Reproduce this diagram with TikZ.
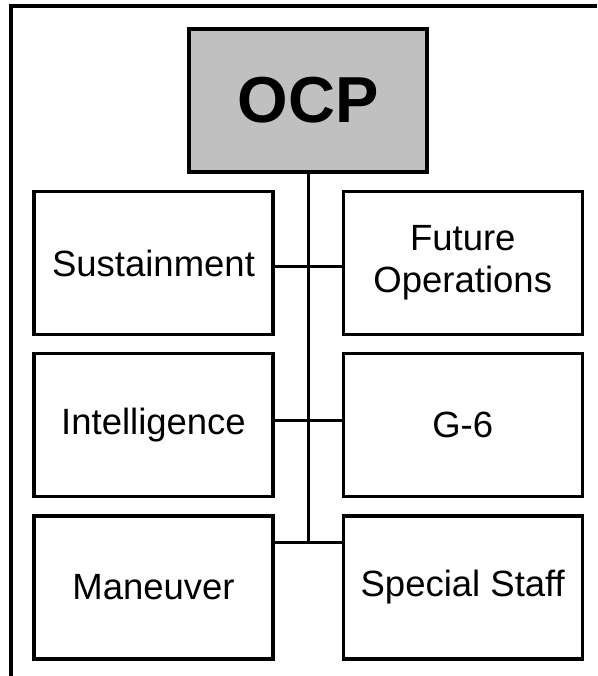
\documentclass[tikz,border=0pt]{standalone}
\usepackage{fontspec}
\setmainfont{Liberation Sans}
\usepackage{xcolor}
\usetikzlibrary{positioning,calc}
\definecolor{hqgray}{RGB}{192,192,192}

\begin{document}
\begin{tikzpicture}[x=1pt,y=-1pt,
  cell/.style={draw,line width=3.4pt,rectangle,minimum width=239pt,minimum height=143pt,
               align=center,inner sep=0pt,font=\fontsize{36.5}{42}\selectfont},
  hq/.style={cell,fill=hqgray,minimum width=238pt,font=\fontsize{65}{70}\selectfont\bfseries},
  link/.style={line width=3pt}]
\useasboundingbox (0,0) rectangle (597,676);
% frame
\draw[line width=3.4pt] (11,676) -- (11,6) -- (597,6);
% command post
\node[hq] (ocp) at (308,100.5) {OCP};
% cells
\node[cell] (sus) at (153.5,263) {Sustainment};
\node[cell] (fut) at (462.75,263) {Future\\Operations};
\node[cell] (int) at (153.5,425) {Intelligence};
\node[cell] (gsix) at (462.75,425) {G-6};
\node[cell] (man) at (153.5,587.5) {Maneuver};
\node[cell] (spc) at (462.75,587.5) {Special Staff};
% trunk and branches
\coordinate (j1) at (308,266);
\coordinate (j2) at (308,420);
\coordinate (j3) at (308,542);
\draw[link] (ocp.south) -- (j3);
\draw[link] (sus.east |- j1) -- (fut.west |- j1);
\draw[link] (int.east |- j2) -- (gsix.west |- j2);
\draw[link] (man.east |- j3) -- (spc.west |- j3);
\end{tikzpicture}
\end{document}
